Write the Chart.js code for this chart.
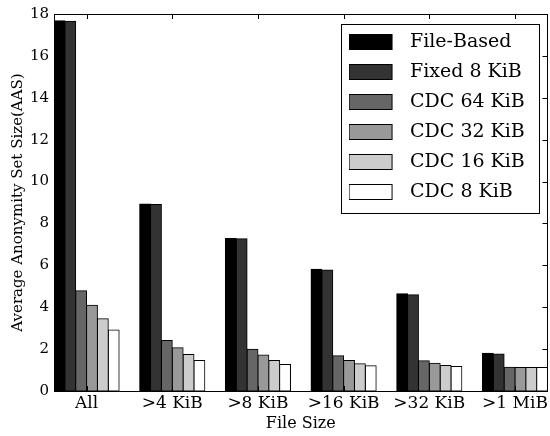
<!DOCTYPE html>
<html><head><meta charset="utf-8">
<script src="https://cdn.jsdelivr.net/npm/chart.js@4.4.0/dist/chart.umd.min.js"></script>
<style>html,body{margin:0;padding:0;background:#fff;} #wrap{width:550px;height:436px;position:relative;}</style>
</head><body><div id="wrap"><canvas id="c"></canvas></div>
<script>
const categories = ['All', '>4 KiB', '>8 KiB', '>16 KiB', '>32 KiB', '>1 MiB'];
const seriesNames = ['File-Based', 'Fixed 8 KiB', 'CDC 64 KiB', 'CDC 32 KiB', 'CDC 16 KiB', 'CDC 8 KiB'];
const fileBased = [17.68, 8.93, 7.28, 5.81, 4.64, 1.80];
const fixed8 = [17.65, 8.90, 7.27, 5.78, 4.59, 1.77];
const cdc64 = [4.79, 2.41, 1.99, 1.68, 1.44, 1.13];
const cdc32 = [4.10, 2.07, 1.72, 1.46, 1.33, 1.12];
const cdc16 = [3.45, 1.74, 1.46, 1.30, 1.22, 1.12];
const cdc8 = [2.91, 1.46, 1.27, 1.21, 1.17, 1.12];
const yTicks = [0, 2, 4, 6, 8, 10, 12, 14, 16, 18];
const colors = ['#000000', '#333333', '#666666', '#999999', '#cccccc', '#ffffff'];

const seriesValues = [fileBased, fixed8, cdc64, cdc32, cdc16, cdc8];

Chart.defaults.font.family = "'DejaVu Serif', serif";
Chart.defaults.color = '#000';

// legend swatch images (swatch on the left, empty gap on the right)
function makeSwatch(color) {
  const cv = document.createElement('canvas');
  cv.width = 52; cv.height = 16;
  const g = cv.getContext('2d');
  g.fillStyle = color;
  g.fillRect(0.5, 0.5, 43, 15);
  g.strokeStyle = '#000';
  g.lineWidth = 1;
  g.strokeRect(0.5, 0.5, 43, 15);
  return cv;
}

const frame = {
  id: 'frame',
  beforeDraw(chart) {
    const ctx = chart.ctx;
    ctx.save();
    ctx.fillStyle = '#fff';
    ctx.fillRect(0, 0, chart.width, chart.height);
    ctx.restore();
  },
  afterLayout(chart) {
    const lg = chart.legend;
    const ca = chart.chartArea;
    const pad = lg.options.labels.padding;
    lg.left = ca.right - 199 - pad;
    lg.top = ca.top + 7.5;
    lg.right = lg.left + lg.width;
    lg.bottom = lg.top + lg.height;
  },
  afterDraw(chart) {
    const {ctx, chartArea: ca, scales: {x, y}} = chart;
    ctx.save();
    ctx.strokeStyle = '#000';
    ctx.lineWidth = 1;
    ctx.beginPath();
    yTicks.forEach(v => {
      const py = Math.round(y.getPixelForValue(v)) + 0.5;
      ctx.moveTo(ca.left, py); ctx.lineTo(ca.left + 5, py);
      ctx.moveTo(ca.right, py); ctx.lineTo(ca.right - 5, py);
    });
    categories.forEach((c, i) => {
      const px = Math.round(x.getPixelForValue(i)) + 0.5;
      ctx.moveTo(px, ca.top); ctx.lineTo(px, ca.top + 5);
      ctx.moveTo(px, ca.bottom); ctx.lineTo(px, ca.bottom - 5);
    });
    ctx.stroke();
    ctx.strokeRect(Math.round(ca.left) + 0.5, Math.round(ca.top) + 0.5,
      Math.round(ca.right - ca.left) - 1, Math.round(ca.bottom - ca.top));
    // legend border
    ctx.strokeRect(Math.round(ca.right - 207) + 0.5, Math.round(ca.top + 10) + 0.5, 198, 189);
    ctx.restore();
  }
};

new Chart(document.getElementById('c'), {
  type: 'bar',
  data: {
    datasets: seriesNames.map((name, k) => ({
      label: name,
      data: seriesValues[k].map((v, i) => ({x: i, y: v})),
      backgroundColor: colors[k],
      borderColor: '#000',
      borderWidth: 1,
      borderSkipped: false,
      inflateAmount: 0.5,
      pointStyle: makeSwatch(colors[k]),
      categoryPercentage: 0.76,
      barPercentage: 1.0
    }))
  },
  options: {
    responsive: true,
    maintainAspectRatio: false,
    animation: false,
    layout: {padding: {left: 0, right: 2, top: 8, bottom: 0}},
    plugins: {
      tooltip: {enabled: false},
      legend: {
        position: 'chartArea',
        align: 'start',
        fullSize: false,
        labels: {
          usePointStyle: true,
          pointStyleWidth: 52,
          boxWidth: 52,
          boxHeight: 16,
          padding: 11,
          color: '#000',
          font: {size: 19}
        }
      }
    },
    scales: {
      x: {
        type: 'linear',
        offset: false,
        min: -0.38,
        max: 5.38,
        grid: {display: false, drawTicks: false, offset: false},
        border: {display: false},
        afterBuildTicks: s => { s.ticks = categories.map((c, i) => ({value: i})); },
        afterFit: s => { s.height = 45; },
        ticks: {
          autoSkip: false,
          maxRotation: 0,
          padding: 2,
          font: {size: 17},
          color: '#000',
          callback: v => categories[Math.round(v)]
        },
        title: {display: true, text: 'File Size', font: {size: 16}, color: '#000', padding: {top: 0, bottom: 3}}
      },
      y: {
        type: 'linear',
        min: 0,
        max: 18,
        grid: {display: false, drawTicks: false},
        border: {display: false},
        afterBuildTicks: s => { s.ticks = yTicks.map(v => ({value: v})); },
        afterFit: s => { s.width = 54; },
        ticks: {padding: 5, font: {size: 15}, color: '#000'},
        title: {display: true, text: 'Average Anonymity Set Size(AAS)', font: {size: 15}, color: '#000', padding: {top: 9, bottom: 0}}
      }
    }
  },
  plugins: [frame]
});
</script>
</body></html>
